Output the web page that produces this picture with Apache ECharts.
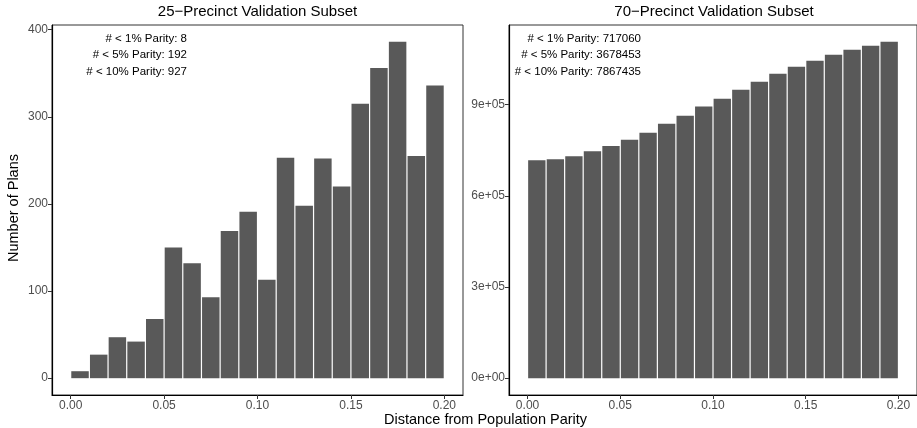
<!DOCTYPE html>
<html>
<head>
<meta charset="utf-8">
<title>Validation Subsets</title>
<script src="https://cdn.jsdelivr.net/npm/echarts@6/dist/echarts.min.js"></script>
<style>
  html, body { margin: 0; padding: 0; background: #fff; }
  #chart { width: 917px; height: 428px; }
</style>
</head>
<body>
<div id="chart"></div>
<script>
// bin edges (distance from population parity)
var binEdges = [0.00, 0.01, 0.02, 0.03, 0.04, 0.05, 0.06, 0.07, 0.08, 0.09, 0.10,
                0.11, 0.12, 0.13, 0.14, 0.15, 0.16, 0.17, 0.18, 0.19, 0.20];

// number of plans per bin
var plans25 = [8, 27, 47, 42, 68, 150, 132, 93, 169, 191,
               113, 253, 198, 252, 220, 315, 356, 386, 255, 336];
var plans70 = [717060, 720200, 730400, 746700, 764093, 785100, 808100, 837700, 864000, 894082,
               919800, 949400, 975700, 1002000, 1025000, 1044700, 1064400, 1080800, 1094000, 1107100];

var xTicks = [0, 0.05, 0.10, 0.15, 0.20];
var yTicks25 = [0, 100, 200, 300, 400];
var yTicks70 = [0, 300000, 600000, 900000];

var panelTitles = ['25\u2212Precinct Validation Subset', '70\u2212Precinct Validation Subset'];
var parityCuts = [1, 5, 10];

var FONT = '"Liberation Sans", Arial, Helvetica, sans-serif';

function toRows(vals) {
    return vals.map(function (v, i) {
        return [binEdges[i], binEdges[i + 1], v];
    });
}

// count of plans in bins below a given % parity
function countBelow(vals, pct) {
    var n = 0;
    for (var i = 0; i < vals.length; i++) {
        if (binEdges[i + 1] <= pct / 100 + 1e-9) n += vals[i];
    }
    return n;
}

function sciLabel(v) {
    if (v === 0) return '0e+00';
    var e = Math.floor(Math.log10(v));
    var m = Math.round(v / Math.pow(10, e));
    return m + 'e+' + (e < 10 ? '0' + e : e);
}

function renderBar(params, api) {
    var p0 = api.coord([api.value(0), 0]);
    var p1 = api.coord([api.value(1), api.value(2)]);
    return {
        type: 'rect',
        shape: {
            x: p0[0] + 0.6,
            y: p1[1],
            width: p1[0] - p0[0] - 1.2,
            height: p0[1] - p1[1]
        },
        style: { fill: '#595959' }
    };
}

function xAxisCfg(idx) {
    return {
        gridIndex: idx,
        type: 'value',
        min: -0.01,
        max: 0.21,
        splitLine: { show: false },
        axisLine: { onZero: false, lineStyle: { color: '#000', width: 1.2 } },
        axisTick: { customValues: xTicks, length: 4, lineStyle: { color: '#333' } },
        axisLabel: {
            customValues: xTicks,
            margin: 5,
            color: '#4d4d4d',
            fontSize: 12,
            fontFamily: FONT,
            formatter: function (v) { return v.toFixed(2); }
        }
    };
}

function yAxisCfg(idx, vals, ticks, fmt) {
    var top = Math.max.apply(null, vals);
    return {
        gridIndex: idx,
        type: 'value',
        min: -top * 0.05,
        max: top * 1.05,
        splitLine: { show: false },
        axisLine: { show: true, onZero: false, lineStyle: { color: '#000', width: 1.2 } },
        axisTick: { show: true, customValues: ticks, length: 4, lineStyle: { color: '#333' } },
        axisLabel: {
            customValues: ticks,
            margin: 4,
            color: '#4d4d4d',
            fontSize: 12,
            fontFamily: FONT,
            formatter: fmt
        }
    };
}

function noteTexts(vals, x) {
    return parityCuts.map(function (c, i) {
        return {
            type: 'text',
            x: x,
            y: 38.5 + i * 16.7,
            style: {
                text: '# < ' + c + '% Parity: ' + countBelow(vals, c),
                align: 'right',
                verticalAlign: 'middle',
                fontSize: 11.5,
                fontFamily: FONT,
                fill: '#000'
            }
        };
    });
}

var chart = echarts.init(document.getElementById('chart'));

var graphics = [
    { type: 'text', x: 257.5, y: 12, style: { text: panelTitles[0], align: 'center', verticalAlign: 'middle', fontSize: 15, fontFamily: FONT, fill: '#000' } },
    { type: 'text', x: 714, y: 12, style: { text: panelTitles[1], align: 'center', verticalAlign: 'middle', fontSize: 15, fontFamily: FONT, fill: '#000' } },
    { type: 'text', x: 485.5, y: 420, style: { text: 'Distance from Population Parity', align: 'center', verticalAlign: 'middle', fontSize: 14.5, fontFamily: FONT, fill: '#000' } },
    { type: 'text', x: 14, y: 208, rotation: Math.PI / 2, style: { text: 'Number of Plans', align: 'center', verticalAlign: 'middle', fontSize: 14.5, fontFamily: FONT, fill: '#000' } }
].concat(noteTexts(plans25, 187), noteTexts(plans70, 641));

var option = {
    backgroundColor: '#fff',
    animation: false,
    grid: [
        { left: 52, top: 25, width: 411, height: 370, show: true, borderColor: '#333', borderWidth: 1 },
        { left: 509, top: 25, width: 411, height: 370, show: true, borderColor: '#333', borderWidth: 1 }
    ],
    xAxis: [xAxisCfg(0), xAxisCfg(1)],
    yAxis: [
        yAxisCfg(0, plans25, yTicks25, function (v) { return String(v); }),
        yAxisCfg(1, plans70, yTicks70, sciLabel)
    ],
    series: [
        {
            type: 'custom',
            xAxisIndex: 0,
            yAxisIndex: 0,
            renderItem: renderBar,
            encode: { x: [0, 1], y: 2 },
            data: toRows(plans25)
        },
        {
            type: 'custom',
            xAxisIndex: 1,
            yAxisIndex: 1,
            renderItem: renderBar,
            encode: { x: [0, 1], y: 2 },
            data: toRows(plans70)
        }
    ],
    graphic: graphics
};

chart.setOption(option);
</script>
</body>
</html>
